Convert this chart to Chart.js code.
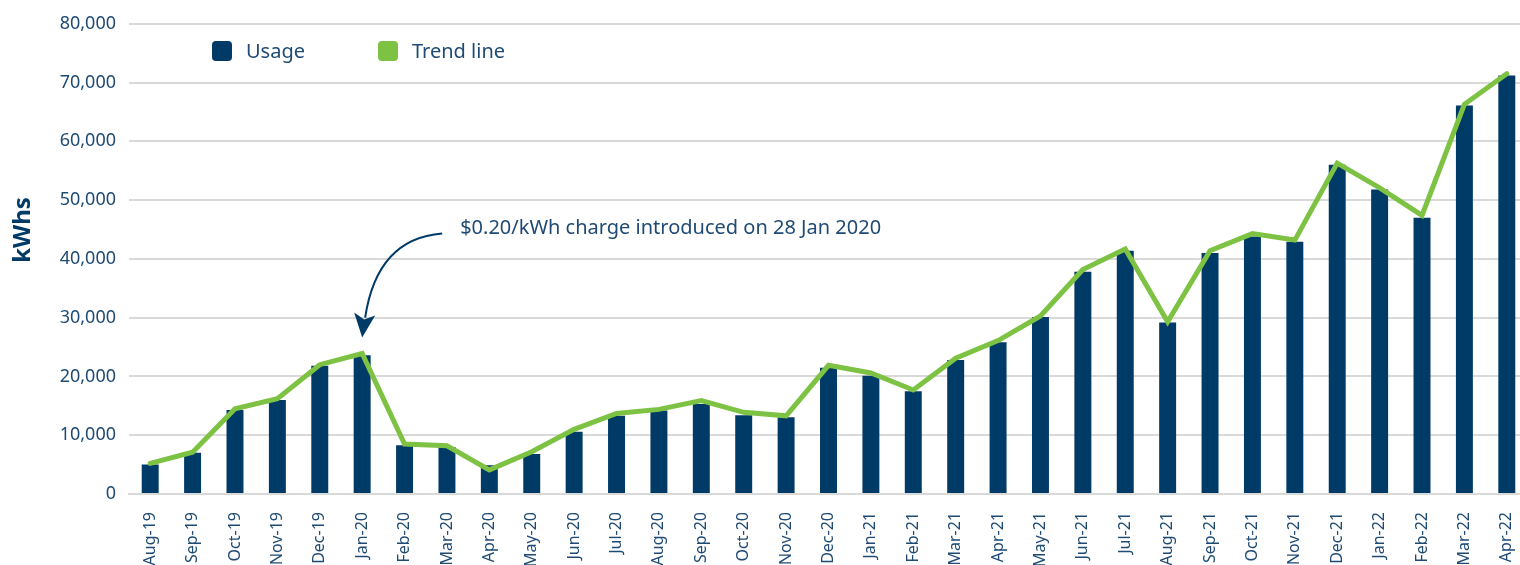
<!DOCTYPE html>
<html>
<head>
<meta charset="utf-8">
<script src="https://cdn.jsdelivr.net/npm/chart.js@4.4.1/dist/chart.umd.min.js"></script>
<style>
  html, body { margin: 0; padding: 0; background: #fff; overflow: hidden; }
  #wrap { position: relative; width: 1536px; height: 565px; }
</style>
</head>
<body>
<div id="wrap"><canvas id="usage-chart"></canvas></div>
<script>
//month labels along the bottom
const months = [
  "Aug-19", "Sep-19", "Oct-19", "Nov-19", "Dec-19",
  "Jan-20", "Feb-20", "Mar-20", "Apr-20", "May-20", "Jun-20",
  "Jul-20", "Aug-20", "Sep-20", "Oct-20", "Nov-20", "Dec-20",
  "Jan-21", "Feb-21", "Mar-21", "Apr-21", "May-21", "Jun-21",
  "Jul-21", "Aug-21", "Sep-21", "Oct-21", "Nov-21", "Dec-21",
  "Jan-22", "Feb-22", "Mar-22", "Apr-22",
];

//monthly usage in kWh (bars)
const usage = [
  5000, 7000, 14300, 16000, 21800,
  23600, 8300, 8000, 4900, 6800, 10600,
  13300, 14200, 15300, 13400, 13050, 21500,
  20100, 17500, 22800, 25800, 30100, 37800,
  41400, 29200, 41000, 43800, 42900, 56000,
  51800, 47000, 66100, 71200,
];

//trend line values
const trend = [
  5200, 7100, 14500, 16200, 22000,
  23900, 8500, 8200, 4100, 7200, 11000,
  13700, 14400, 15900, 13900, 13300, 21900,
  20600, 17700, 23100, 26100, 30300, 38200,
  41700, 29300, 41400, 44300, 43200, 56300,
  52100, 47400, 66300, 71500,
];

const yTicks = [0, 10000, 20000, 30000, 40000, 50000, 60000, 70000, 80000];

const seriesNames = ["Usage", "Trend line"];
const yTitle = "kWhs";
const noteText = "$0.20/kWh charge introduced on 28 Jan 2020";
const noteMonth = "Jan-20";

const navy = "#003a66";
const green = "#7dc243";
const textColor = "#1e4a73";
const gridColor = "#d9d9d9";
const fontFamily = "'Noto Sans', 'DejaVu Sans', sans-serif";

//legend, axis title and the arrow note, drawn on top of the chart
const extras = {
  id: "extras",
  afterDraw(chart) {
    const ctx = chart.ctx;
    const x = chart.scales.x;
    const y = chart.scales.y;
    ctx.save();

    //legend
    const legendX = [212, 378];
    chart.data.datasets.forEach((ds, i) => {
      ctx.fillStyle = ds.type === "line" ? ds.borderColor : ds.backgroundColor;
      ctx.beginPath();
      ctx.roundRect(legendX[i], 41, 20, 20, 4);
      ctx.fill();
      ctx.fillStyle = textColor;
      ctx.font = "20px " + fontFamily;
      ctx.textAlign = "left";
      ctx.textBaseline = "middle";
      ctx.fillText(ds.label, legendX[i] + 34, 52);
    });

    //y axis title
    ctx.save();
    ctx.translate(23, 230);
    ctx.rotate(-Math.PI / 2);
    ctx.fillStyle = navy;
    ctx.font = "bold 24px " + fontFamily;
    ctx.textAlign = "center";
    ctx.textBaseline = "middle";
    ctx.fillText(yTitle, 0, 0);
    ctx.restore();

    //arrow pointing at the month the charge started
    const idx = months.indexOf(noteMonth);
    const px = x.getPixelForValue(idx);
    const py = y.getPixelForValue(trend[idx]);
    const tipY = py - 16;
    ctx.strokeStyle = navy;
    ctx.lineWidth = 2;
    ctx.beginPath();
    ctx.moveTo(px + 80, py - 120);
    ctx.quadraticCurveTo(px + 15, py - 115, px + 3, tipY - 20);
    ctx.stroke();
    ctx.fillStyle = navy;
    ctx.beginPath();
    ctx.moveTo(px, tipY);
    ctx.lineTo(px - 8, tipY - 25);
    ctx.lineTo(px + 2, tipY - 18);
    ctx.lineTo(px + 13, tipY - 22);
    ctx.closePath();
    ctx.fill();

    ctx.fillStyle = textColor;
    ctx.font = "20px " + fontFamily;
    ctx.textAlign = "left";
    ctx.textBaseline = "middle";
    ctx.fillText(noteText, px + 98, py - 125);

    ctx.restore();
  },
};

new Chart(document.getElementById("usage-chart"), {
  type: "bar",
  plugins: [extras],
  data: {
    labels: months,
    datasets: [
      {
        type: "bar",
        label: seriesNames[0],
        data: usage,
        backgroundColor: navy,
        categoryPercentage: 1,
        barPercentage: 0.4,
        order: 1,
      },
      {
        type: "line",
        label: seriesNames[1],
        data: trend,
        borderColor: green,
        backgroundColor: green,
        borderWidth: 5,
        pointRadius: 0,
        tension: 0,
        borderCapStyle: "round",
        order: 0,
      },
    ],
  },
  options: {
    responsive: true,
    maintainAspectRatio: false,
    animation: false,
    layout: { padding: { top: 10, right: 0, bottom: 0, left: 0 } },
    plugins: {
      legend: { display: false },
      tooltip: { enabled: false },
    },
    scales: {
      x: {
        offset: true,
        afterFit: (s) => { s.height = 71; },
        grid: { display: false },
        border: { display: true, color: gridColor, width: 2 },
        ticks: {
          color: textColor,
          font: { family: fontFamily, size: 16 },
          minRotation: 90,
          maxRotation: 90,
          padding: 10,
          autoSkip: false,
        },
      },
      y: {
        min: 0,
        max: 80000,
        afterBuildTicks: (s) => { s.ticks = yTicks.map((v) => ({ value: v })); },
        afterFit: (s) => { s.width = 129; },
        grid: { color: gridColor, lineWidth: 2, drawTicks: false },
        border: { display: false },
        ticks: {
          color: textColor,
          font: { family: fontFamily, size: 18 },
          padding: 13,
          callback: (v) => v.toLocaleString("en-US"),
        },
      },
    },
  },
});
</script>
</body>
</html>
